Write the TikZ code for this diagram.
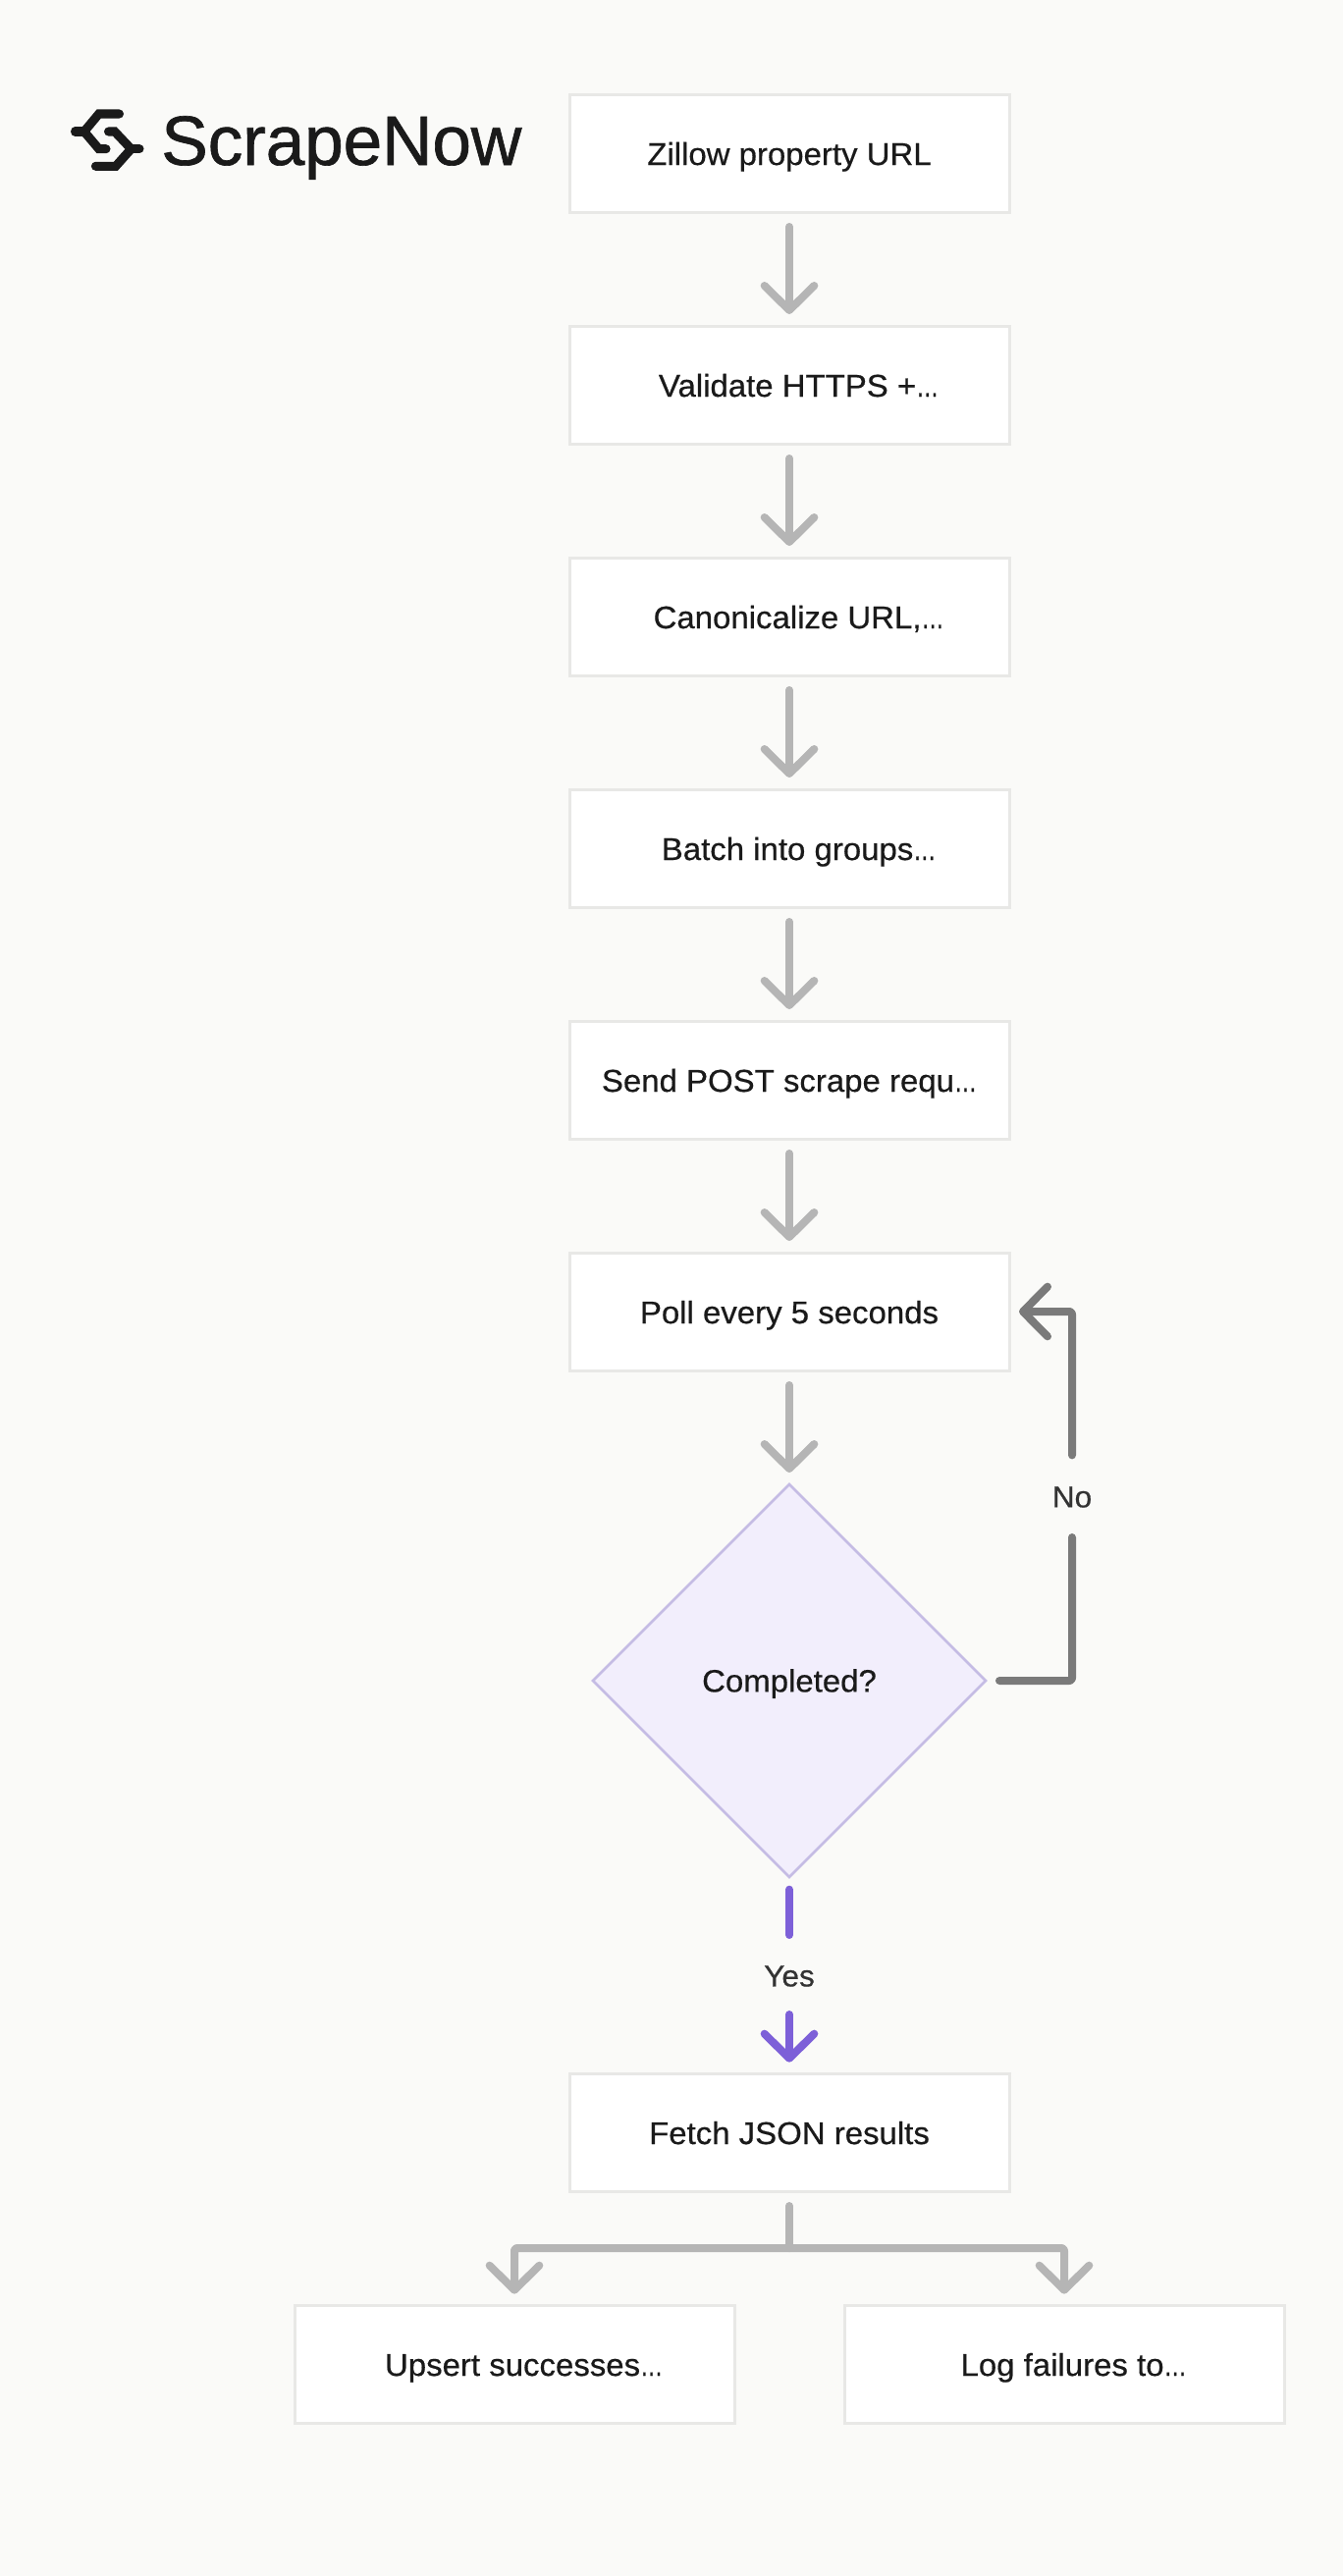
\documentclass[tikz,border=0pt]{standalone}
\usepackage{fontspec}
\usetikzlibrary{arrows.meta,shapes.geometric}
\setmainfont[FakeStretch=1.03,FakeBold=0.5]{Liberation Sans}
\newfontfamily\logofont[LetterSpace=-0.3,FakeBold=0.9]{Liberation Sans}
\newfontfamily\elfont[FakeStretch=0.72,FakeBold=0.6]{Liberation Sans}
\definecolor{bgc}{HTML}{FAFAF8}
\definecolor{edgec}{HTML}{E8E8E6}
\definecolor{inkc}{HTML}{1A1A1A}
\definecolor{lblc}{HTML}{333333}
\definecolor{flowc}{HTML}{B5B5B5}
\definecolor{loopc}{HTML}{7A7A7A}
\definecolor{yesc}{HTML}{7D60D8}
\definecolor{dfill}{HTML}{F2EEFC}
\definecolor{dedge}{HTML}{C5BCE4}
\tikzset{
  x=0.75pt,y=-0.75pt,
  stepbox/.style={draw=edgec,fill=white,line width=2.25pt,rectangle,minimum width=336pt,minimum height=90pt,inner sep=0pt,outer sep=0pt,text=inkc,text height=24pt,text depth=6pt,font=\fontsize{24}{28}\selectfont},
  decide/.style={draw=dedge,fill=dfill,line width=1.9pt,diamond,aspect=1,minimum width=300pt,minimum height=300pt,inner sep=0pt,outer sep=0pt,text=inkc,text height=24pt,text depth=7pt,font=\fontsize{24}{28}\selectfont},
  edgelbl/.style={inner sep=0pt,outer sep=0pt,text=lblc,font=\fontsize{23}{28}\selectfont},
  barb/.tip={Straight Barb[length=18.75pt,width=38pt,line width=6pt,round]},
  conn/.style={line width=6pt,line cap=round,line join=round,rounded corners=2pt},
  flow/.style={conn,draw=flowc},
  loopback/.style={conn,draw=loopc},
  yesflow/.style={conn,draw=yesc},
  mark stroke/.style={draw=inkc,line width=6.8pt,line cap=round,line join=miter},
}
\newcommand{\pad}{\hspace*{14.4pt}}
\newcommand{\elli}{{\elfont …}}
\begin{document}
\begin{tikzpicture}
\useasboundingbox (0,0) rectangle (1368,2624);
\fill[bgc] (0,0) rectangle (1368,2624);
% logo
\draw[mark stroke] (121.5,116) -- (100.7,116) -- (85.7,134) -- (100.7,151.7) -- (108,151.7);
\draw[mark stroke] (85.7,134) -- (76.5,134);
\draw[mark stroke] (97.4,169.3) -- (117.9,169.3) -- (133.6,151.7) -- (116.8,134) -- (110.5,134);
\draw[mark stroke] (133.6,151.7) -- (142,151.7);
\node[anchor=base west,inner sep=0pt,text=inkc,font=\logofont\fontsize{53.5}{60}\selectfont] (logo) at (164,168) {ScrapeNow};
% boxes
\node[stepbox] (a) at (804,156) {Zillow property URL};
\node[stepbox] (b) at (804,392) {\pad Validate HTTPS +\elli};
\node[stepbox] (c) at (804,628) {\pad Canonicalize URL,\elli};
\node[stepbox] (d) at (804,864) {\pad Batch into groups\elli};
\node[stepbox] (e) at (804,1100) {Send POST scrape requ\elli};
\node[stepbox] (f) at (804,1336) {Poll every 5 seconds};
\node[decide] (g) at (804,1712) {Completed?};
\node[stepbox] (h) at (804,2172) {Fetch JSON results};
\node[stepbox] (i) at (524,2408) {\pad Upsert successes\elli};
\node[stepbox] (j) at (1084,2408) {\pad Log failures to\elli};
\node[edgelbl] (no) at (1092,1525) {No};
\node[edgelbl] (yes) at (804,2013) {Yes};
\coordinate (split) at (804,2290);
% flow
\foreach \p/\q in {a/b,b/c,c/d,d/e,e/f,f/g}
  \draw[flow,-{barb}] ([yshift=-11.25pt]\p.south) -- ([yshift=9pt]\q.north);
% no loop
\draw[loopback] ([xshift=10.5pt]g.east) -| ([yshift=-30.75pt]no.center);
\draw[loopback,-{barb}] ([yshift=32pt]no.center) |- ([xshift=7.5pt]f.east);
% yes
\draw[yesflow] ([yshift=-9.5pt]g.south) -- ([yshift=31.5pt]yes.center);
\draw[yesflow,-{barb}] ([yshift=-29.25pt]yes.center) -- ([yshift=8.5pt]h.north);
% split
\draw[flow] ([yshift=-11.25pt]h.south) -- (split);
\draw[flow,-{barb}] (split) -| ([yshift=8.5pt]i.north);
\draw[flow,-{barb}] (split) -| ([yshift=8.5pt]j.north);
\end{tikzpicture}
\end{document}
